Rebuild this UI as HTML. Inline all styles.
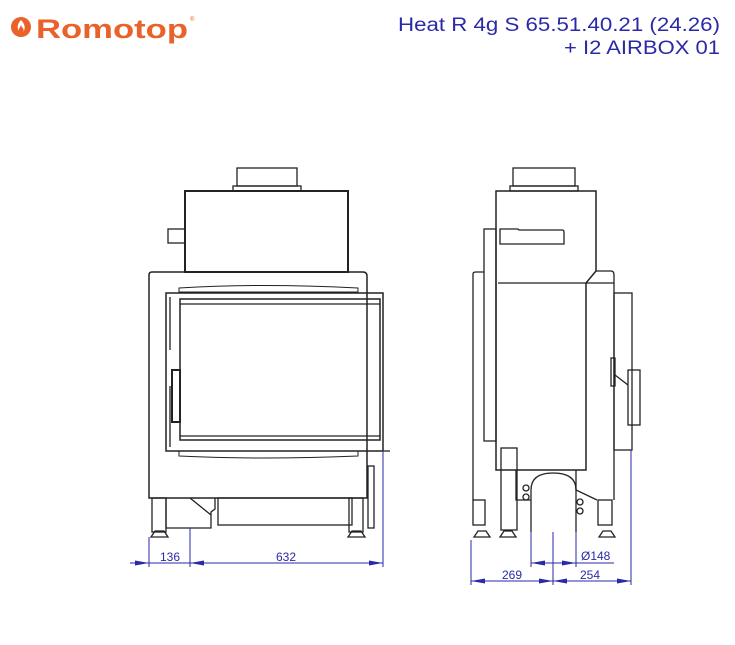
<!DOCTYPE html>
<html><head><meta charset="utf-8"><style>
html,body{margin:0;padding:0;background:#fff;}
svg{display:block;}
</style></head><body>
<svg width="735" height="645" viewBox="0 0 735 645" xmlns="http://www.w3.org/2000/svg" font-family="Liberation Sans, sans-serif">
<!-- logo -->
<circle cx="21" cy="27" r="10" fill="#e8622a"/>
<path d="M21 20 C17 24 17 28 19 31 C18 28 21 27 21 25 C22 28 25 29 23 32 C26 29 25 24 21 20Z" fill="#fff"/>
<text x="36" y="38" font-size="27" font-weight="bold" fill="#e8622a" textLength="152" lengthAdjust="spacingAndGlyphs">Romotop</text>
<text x="190" y="21" font-size="6" fill="#e8622a">®</text>
<!-- title -->
<text x="398" y="31" font-size="19" fill="#2a2aa8" textLength="322" lengthAdjust="spacingAndGlyphs" font-weight="300">Heat R 4g S 65.51.40.21 (24.26)</text>
<text x="564" y="54" font-size="19" fill="#2a2aa8" textLength="156" lengthAdjust="spacingAndGlyphs">+ I2 AIRBOX 01</text>

<g fill="none" stroke="#222" stroke-width="1.3">
<!-- FRONT VIEW -->
<rect x="237" y="168" width="60" height="18"/>
<rect x="233" y="186" width="68" height="5"/>
<rect x="185" y="191" width="163" height="81" stroke-width="2"/>
<rect x="168" y="229" width="17" height="14"/>
<path d="M149 498 V275 Q149 272 152 272 H363 Q367 272 367 276 V498 Z" stroke-width="1.5"/>
<path d="M179 288 Q260 283 358 288 V292 H179 Z" stroke-width="1"/>
<rect x="166" y="293" width="217" height="158" stroke-width="1.5"/>
<rect x="180" y="299" width="200" height="141" stroke-width="1.5"/>
<line x1="180" y1="304" x2="380" y2="304"/>
<line x1="180" y1="436" x2="380" y2="436"/>
<path d="M170 297 V350 M170 386 V447" />
<rect x="172" y="370" width="8" height="52" stroke-width="2"/>
<path d="M179 451 H358 V456 Q260 460 179 456Z" stroke-width="1"/>
<rect x="368" y="466" width="6" height="62"/>
<rect x="152" y="498" width="14" height="34"/>
<path d="M151 537 L155 531 H164 L168 537Z" />
<rect x="349" y="498" width="14" height="34"/>
<path d="M348 537 L352 531 H361 L365 537Z"/>
<path d="M166 498 V528 H211 V512 L215 509 V498"/>
<line x1="190" y1="498" x2="211" y2="515"/>
<rect x="218" y="498" width="134" height="27"/>
<path d="M383 451 H390"/>

<!-- SIDE VIEW -->
<rect x="513" y="168" width="62" height="18"/>
<rect x="510" y="186" width="68" height="5"/>
<path d="M496 191 H596 V271 L586 283 V470 H496 Z" stroke-width="1.5"/>
<line x1="498" y1="283" x2="586" y2="283"/>
<path d="M500 229 H518 L519 230 H562 Q564 230 564 232 V244 H500 Z"/>
<rect x="484" y="229" width="12" height="212"/>
<path d="M473 500 V274 Q473 272 476 272 H484"/>
<path d="M596 271 H611 Q614 271 614 275 V500"/>
<path d="M586 283 H614"/>
<rect x="614" y="293" width="18" height="157"/>
<rect x="628" y="370" width="12" height="55"/>
<line x1="615" y1="375" x2="628" y2="385"/>
<rect x="611" y="358" width="4" height="28"/>
<rect x="501" y="448" width="16" height="82"/>
<path d="M516 470 V500 H531"/>
<path d="M531 532 V490 Q531 473 553 473 Q576 473 576 490 V532"/>
<path d="M576 470 V490 L597 500"/>
<circle cx="526" cy="488" r="3"/><circle cx="526" cy="497" r="3"/>
<circle cx="580" cy="502" r="3"/><circle cx="580" cy="511" r="3"/>
<rect x="473" y="500" width="12" height="25"/>
<rect x="598" y="500" width="14" height="25"/>
<path d="M474 537 L478 531 H486 L490 537Z"/>
<path d="M500 537 L504 531 H512 L516 537Z"/>
<path d="M599 537 L603 531 H611 L615 537Z"/>
</g>

<!-- dimensions -->
<g stroke="#2a2aa8" stroke-width="1" fill="none">
<line x1="149" y1="537" x2="149" y2="567"/>
<line x1="190" y1="528" x2="190" y2="567"/>
<line x1="383" y1="452" x2="383" y2="567"/>
<line x1="130" y1="563" x2="383" y2="563"/>
<line x1="471" y1="540" x2="471" y2="585"/>
<line x1="631" y1="450" x2="631" y2="585"/>
<line x1="553" y1="532" x2="553" y2="585"/>
<line x1="531" y1="532" x2="531" y2="567"/>
<line x1="576" y1="532" x2="576" y2="567"/>
<line x1="531" y1="563" x2="614" y2="563"/>
<line x1="471" y1="581" x2="631" y2="581"/>
</g>
<g fill="#2a2aa8">
<path d="M149 563 l-14 -2.5 v5z"/>
<path d="M190 563 l14 -2.5 v5z"/>
<path d="M383 563 l-14 -2.5 v5z"/>
<path d="M531 563 l14 -2.5 v5z"/>
<path d="M576 563 l-14 -2.5 v5z"/>
<path d="M471 581 l14 -2.5 v5z"/>
<path d="M553 581 l-14 -2.5 v5z"/>
<path d="M553 581 l14 -2.5 v5z"/>
<path d="M631 581 l-14 -2.5 v5z"/>
</g>
<g fill="#2a2aa8" font-size="12">
<text x="160" y="561">136</text>
<text x="276" y="561">632</text>
<text x="581" y="560">Ø148</text>
<text x="502" y="579">269</text>
<text x="580" y="579">254</text>
</g>
</svg>
</body></html>
